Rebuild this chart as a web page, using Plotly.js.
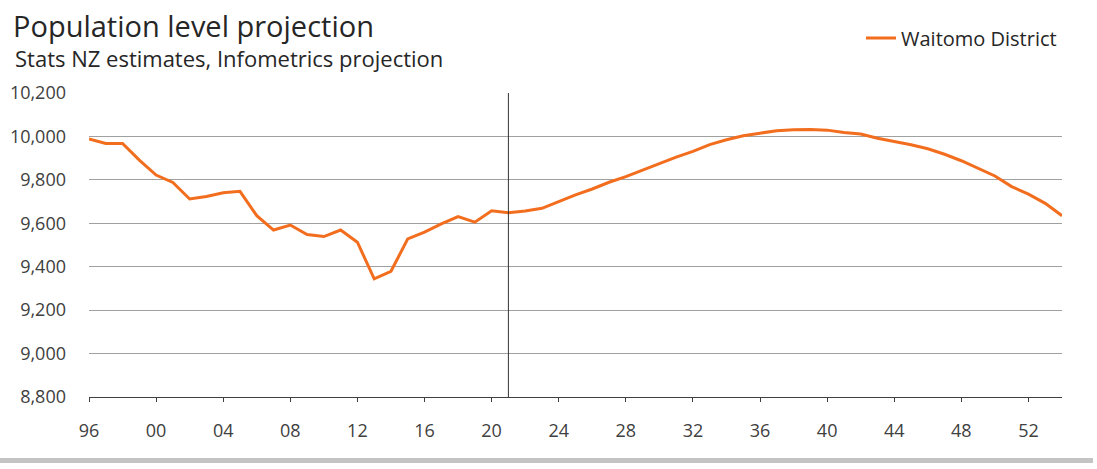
<!DOCTYPE html>
<html>
<head>
<meta charset="utf-8">
<script src="https://cdn.plot.ly/plotly-3.0.1.min.js"></script>
<style>
  html, body { margin: 0; padding: 0; background: #ffffff; }
  #chart { width: 1097px; height: 469px; }
</style>
</head>
<body>
<div id="chart"></div>
<script>
// ---- Data ----
const years = [1996, 1997, 1998, 1999, 2000, 2001, 2002, 2003, 2004, 2005,
               2006, 2007, 2008, 2009, 2010, 2011, 2012, 2013, 2014, 2015,
               2016, 2017, 2018, 2019, 2020, 2021, 2022, 2023, 2024, 2025,
               2026, 2027, 2028, 2029, 2030, 2031, 2032, 2033, 2034, 2035,
               2036, 2037, 2038, 2039, 2040, 2041, 2042, 2043, 2044, 2045,
               2046, 2047, 2048, 2049, 2050, 2051, 2052, 2053, 2054];
const waitomo = [9988, 9968, 9968, 9891, 9822, 9788, 9712, 9723, 9741, 9747,
                 9635, 9569, 9592, 9548, 9539, 9569, 9513, 9344, 9379, 9528,
                 9559, 9597, 9631, 9605, 9658, 9649, 9657, 9669, 9700, 9731,
                 9758, 9789, 9815, 9846, 9877, 9905, 9931, 9962, 9985, 10003,
                 10015, 10026, 10031, 10032, 10029, 10018, 10011, 9992, 9977, 9962,
                 9943, 9918, 9888, 9854, 9818, 9769, 9734, 9692, 9635];
const seriesName = "Waitomo District";
const xTickVals = [1996, 2000, 2004, 2008, 2012, 2016, 2020, 2024, 2028, 2032, 2036, 2040, 2044, 2048, 2052];
const xTickText = ["96", "00", "04", "08", "12", "16", "20", "24", "28", "32", "36", "40", "44", "48", "52"];
const yTickVals = [8800, 9000, 9200, 9400, 9600, 9800, 10000, 10200];
const projectionStart = 2021;
const titleText = "Population level projection";
const subtitleText = "Stats NZ estimates, Infometrics projection";

const FONT = "'Open Sans', 'Noto Sans', sans-serif";

const trace = {
  x: years,
  y: waitomo,
  type: "scatter",
  mode: "lines",
  name: seriesName,
  line: { color: "#f26e1e", width: 3 },
  hoverinfo: "x+y"
};

const layout = {
  width: 1097,
  height: 469,
  paper_bgcolor: "#ffffff",
  plot_bgcolor: "#ffffff",
  margin: { l: 89, r: 35, t: 93, b: 72 },
  font: { family: FONT, color: "#404040", size: 18 },
  title: {
    text: titleText,
    font: { family: FONT, size: 29, color: "#262626" },
    x: 13 / 1097, xanchor: "left", xref: "container",
    y: 1 - 27 / 469, yanchor: "middle", yref: "container"
  },
  annotations: [{
    text: subtitleText,
    xref: "paper", yref: "paper",
    x: (13 - 89) / 973, xanchor: "left",
    y: 1 + (93 - 58) / 304, yanchor: "middle",
    showarrow: false,
    font: { family: FONT, size: 22, color: "#262626" }
  }],
  showlegend: true,
  legend: {
    x: 1, xanchor: "right",
    y: 1 + (93 - 38) / 304, yanchor: "middle",
    font: { family: FONT, size: 20, color: "#262626" },
    bgcolor: "rgba(0,0,0,0)"
  },
  xaxis: {
    range: [1996, 2054],
    tickvals: xTickVals,
    ticktext: xTickText,
    showgrid: false,
    zeroline: false,
    showline: true,
    linecolor: "#404040",
    linewidth: 1,
    ticks: "outside",
    ticklen: 4,
    tickwidth: 1,
    tickcolor: "#404040",
    ticklabelstandoff: 13,
    tickfont: { family: FONT, size: 18, color: "#404040" },
    fixedrange: true
  },
  yaxis: {
    range: [8800, 10200],
    tickvals: yTickVals,
    tickformat: ",d",
    showgrid: true,
    gridcolor: "#a0a0a0",
    gridwidth: 1,
    zeroline: false,
    showline: false,
    ticks: "",
    ticklabelstandoff: 22,
    tickfont: { family: FONT, size: 18, color: "#404040" },
    fixedrange: true
  },
  shapes: [
    {
      type: "line", xref: "x", yref: "paper",
      x0: projectionStart, x1: projectionStart, y0: 0, y1: 1,
      line: { color: "#333333", width: 1 }
    },
    {
      type: "rect", xref: "paper", yref: "paper",
      x0: (0 - 89) / 973, x1: (1093 - 89) / 973,
      y0: (397 - 463) / 304, y1: (397 - 458) / 304,
      fillcolor: "#c4c4c4", line: { width: 0 }, layer: "above"
    }
  ]
};

Plotly.newPlot("chart", [trace], layout, { displayModeBar: false, staticPlot: false, responsive: false });
</script>
</body>
</html>
